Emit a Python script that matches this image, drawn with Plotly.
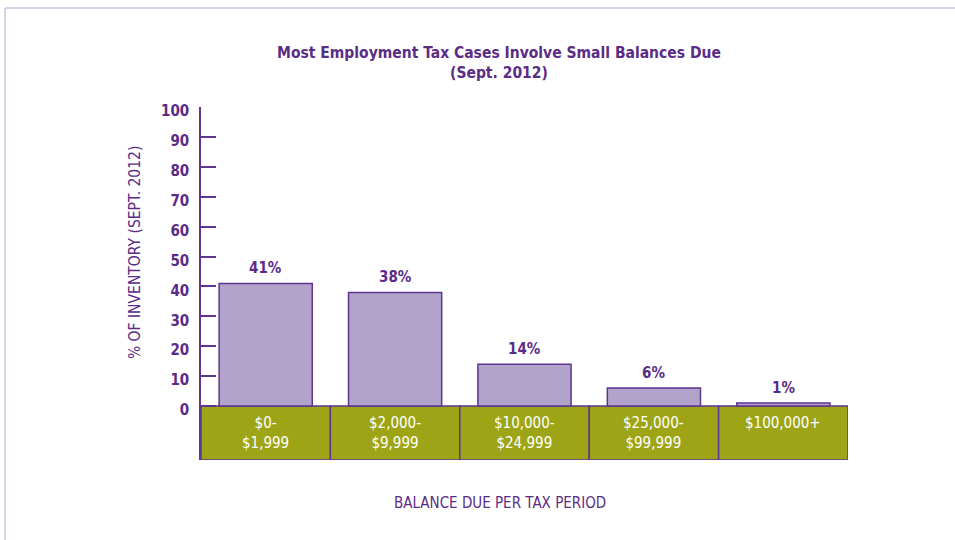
import plotly.graph_objects as go

categories = ["$0-<br>$1,999", "$2,000-<br>$9,999", "$10,000-<br>$24,999", "$25,000-<br>$99,999", "$100,000+"]
values = [41, 38, 14, 6, 1]
value_labels = ["41%", "38%", "14%", "6%", "1%"]
band_depth = 18.06
y_ticks = [0, 10, 20, 30, 40, 50, 60, 70, 80, 90, 100]

PURPLE = "#5b2c86"
LINE = "#5e3592"
BAR = "#b1a3ca"
GREEN = "#9da516"
FONT = "DejaVu Sans Condensed, Liberation Sans Narrow, Arial Narrow, sans-serif"

fig = go.Figure()

# green category band below the zero line
fig.add_trace(go.Bar(
    x=categories,
    y=[band_depth] * len(categories),
    base=[-band_depth] * len(categories),
    width=1.0,
    marker=dict(color=GREEN, line=dict(color=LINE, width=1.5)),
    hoverinfo="skip",
    showlegend=False,
))

fig.add_trace(go.Bar(
    x=categories,
    y=values,
    width=0.72,
    marker=dict(color=BAR, line=dict(color=LINE, width=1.5)),
    showlegend=False,
))

annotations = []
for c, v, t in zip(categories, values, value_labels):
    annotations.append(dict(x=c, y=v, text="<b>" + t + "</b>", showarrow=False, yanchor="bottom", yshift=4,
                            font=dict(color=PURPLE, size=15, family=FONT)))
for c in categories:
    annotations.append(dict(x=c, y=0, text=c, showarrow=False, yanchor="top", yshift=-6,
                            font=dict(color="white", size=15, family=FONT)))

annotations.append(dict(xref="paper", yref="paper", x=0.4606, y=1.1246, xanchor="center", yanchor="middle",
                        text="<b>Most Employment Tax Cases Involve Small Balances Due<br>(Sept. 2012)</b>",
                        showarrow=False, font=dict(color=PURPLE, size=15.5, family=FONT), align="center"))
annotations.append(dict(xref="paper", yref="paper", x=-0.102, y=0.589, xanchor="center", yanchor="middle",
                        text="% OF INVENTORY (SEPT. 2012)", textangle=-90,
                        showarrow=False, font=dict(color=PURPLE, size=15.5, family=FONT)))
annotations.append(dict(xref="paper", yref="paper", x=0.4621, y=-0.1218, xanchor="center", yanchor="middle",
                        text="BALANCE DUE PER TAX PERIOD",
                        showarrow=False, font=dict(color=PURPLE, size=15, family=FONT)))

shapes = [
    dict(type="line", xref="paper", yref="paper", x0=-0.3029, x1=1.2, y0=1.2805, y1=1.2805,
         line=dict(color="#d8d2e8", width=2)),
    dict(type="line", xref="paper", yref="paper", x0=-0.3029, x1=-0.3029, y0=-0.3, y1=1.2805,
         line=dict(color="#d8d2e8", width=2)),
]

fig.update_layout(
    width=955, height=540,
    margin=dict(l=201, r=107, t=107, b=80),
    paper_bgcolor="white", plot_bgcolor="white",
    barmode="overlay",
    annotations=annotations,
    shapes=shapes,
    font=dict(family=FONT, color=PURPLE),
    xaxis=dict(range=[-0.5, 4.5], showticklabels=False, ticks="", showgrid=False,
               zeroline=False, showline=False, fixedrange=True),
    yaxis=dict(range=[-band_depth, 100], tickvals=y_ticks, ticktext=[str(t) for t in y_ticks],
               ticks="inside", ticklen=15, tickwidth=1.5, tickcolor=LINE,
               showline=True, linecolor=LINE, linewidth=1.5,
               showgrid=False, zeroline=False,
               tickfont=dict(size=15, color=PURPLE, family=FONT, weight="bold"),
               ticklabelstandoff=7, ticklabelshift=4),
)

fig.write_html("out.html", config={"displayModeBar": False},
               post_script="document.body.style.margin='0';")
